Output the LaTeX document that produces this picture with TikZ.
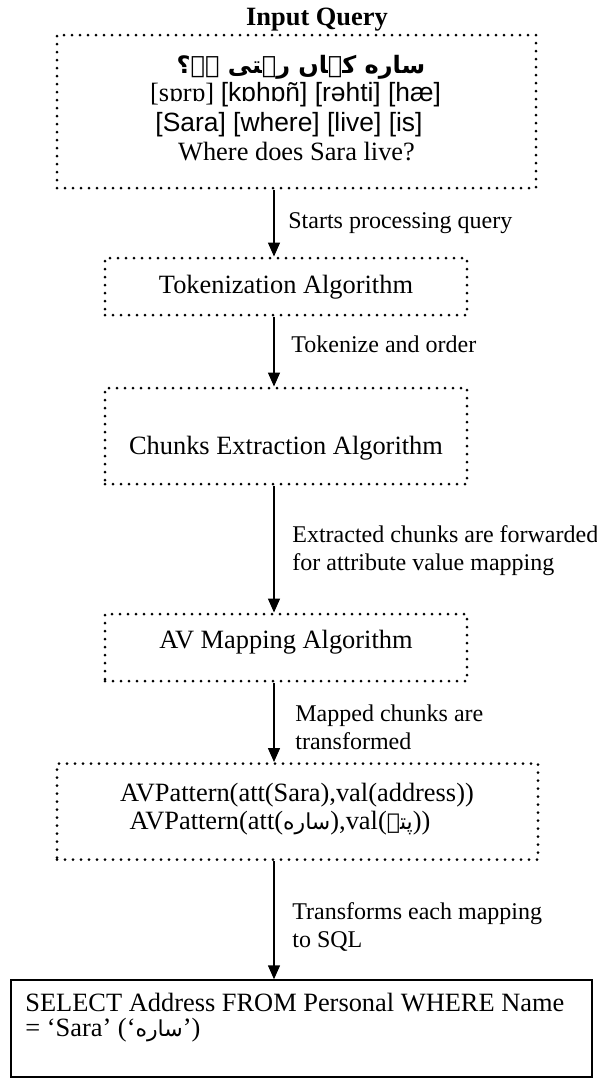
\documentclass[tikz,border=0pt]{standalone}
\usepackage{fontspec}
\setmainfont{Liberation Serif}
\newfontfamily\arialf{Liberation Sans}
\newfontfamily\arabicfont[Script=Arabic]{DejaVu Sans}
\TeXXeTstate=1
\usetikzlibrary{arrows.meta}
\newcommand{\urd}[1]{{\arabicfont\beginR #1\endR}}
\begin{document}
\begin{tikzpicture}[x=0.5pt,y=-0.5pt,
  dotbox/.style={draw, line width=1.5pt, dash pattern=on 0pt off 4pt, line cap=round, inner sep=0pt, anchor=center},
  solidbox/.style={draw, line width=0.75pt, inner sep=0pt, anchor=center},
  boxtext/.style={font=\fontsize{13.2}{14}\selectfont, inner sep=0pt},
  lbl/.style={font=\fontsize{12}{14}\selectfont, inner sep=0pt, anchor=west, align=left},
  arr/.style={line width=0.75pt, -{Triangle[width=6pt,length=7pt]}}]
\useasboundingbox (0,0) rectangle (597,1078);
% boxes
\node[dotbox, minimum width=239.5pt, minimum height=76.5pt] (query) at (296.5,111.5) {};
\node[dotbox, minimum width=181pt, minimum height=28.5pt] (tok) at (286,286.5) {};
\node[dotbox, minimum width=181pt, minimum height=48pt] (chunk) at (286,436) {};
\node[dotbox, minimum width=181pt, minimum height=33.5pt] (avm) at (286,647.5) {};
\node[dotbox, minimum width=240.5pt, minimum height=48pt] (avp) at (297.5,811.5) {};
\node[solidbox, minimum width=290.5pt, minimum height=48.5pt] (sql) at (301.5,1028.5) {};
% title
\node[boxtext, font=\fontsize{13.2}{14}\selectfont\bfseries] (title) at (317,20) {Input Query};
% query contents
\node[boxtext, font=\fontsize{12}{14}\selectfont\arabicfont\bfseries] (q1) at (301,67) {\beginR ساره کہاں رہتی ہے؟\endR};
\node[boxtext] (q2) at (295.5,95) {[sɒrɒ] {\arialf [kɒhɒñ] [rəhti] [hæ]}};
\node[boxtext] (q3) at (289,125) {\arialf [Sara] [where] [live] [is]};
\node[boxtext] (q4) at (296.5,152) {Where does Sara live?};
% other box texts
\node[boxtext] (tokt) at (286,287) {Tokenization Algorithm};
\node[boxtext] (chunkt) at (286,448) {Chunks Extraction Algorithm};
\node[boxtext] (avmt) at (286,642) {AV Mapping Algorithm};
\node[boxtext] (avp1) at (297,795) {AVPattern(att(Sara),val(address))};
\node[boxtext] (avp2) at (280,823) {AVPattern(att(\urd{\fontsize{11}{14}\selectfont ساره}),val(\urd{\fontsize{11}{14}\selectfont پتہ}))};
\node[boxtext, anchor=west] (sql1) at (25,1003) {SELECT Address FROM Personal WHERE Name};
\node[boxtext, anchor=west] (sql2) at (25,1030) {= ‘Sara’ (‘\urd{\fontsize{11}{14}\selectfont ساره}’)};
% connectors
\coordinate (ax) at (274,0);
\draw[arr] (query.south -| ax) -- (tok.north -| ax);
\draw[arr] (tok.south -| ax) -- (chunk.north -| ax);
\draw[arr] (chunk.south -| ax) -- (avm.north -| ax);
\draw[arr] (avm.south -| ax) -- (avp.north -| ax);
\draw[arr] (avp.south -| ax) -- (sql.north -| ax);
% labels
\node[lbl] (l1) at (288,223) {Starts processing query};
\node[lbl] (l2) at (291,344) {Tokenize and order};
\node[lbl] (l3) at (292,551) {Extracted chunks are forwarded\\for attribute value mapping};
\node[lbl] (l4) at (295,727) {Mapped chunks are\\transformed};
\node[lbl] (l5) at (292,926.5) {Transforms each mapping\\to SQL};
\end{tikzpicture}
\end{document}
